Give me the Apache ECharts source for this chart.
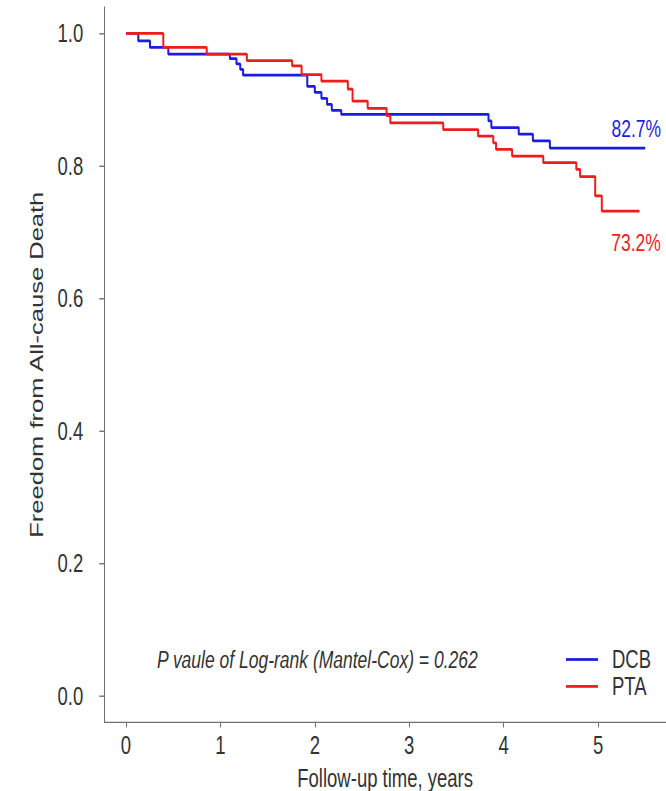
<!DOCTYPE html>
<html>
<head>
<meta charset="utf-8">
<script src="https://cdn.jsdelivr.net/npm/echarts@6/dist/echarts.min.js"></script>
<style>
  html, body { margin: 0; padding: 0; background: #fff; overflow: hidden; }
  #wrap { width: 666px; height: 791px; overflow: hidden; position: relative; }
  #chart { width: 666px; height: 576px; transform: scaleY(1.38); transform-origin: 0 0; }
</style>
</head>
<body>
<div id="wrap"><div id="chart"></div></div>
<script>
// ---- data ----
const seriesNames = ['DCB', 'PTA'];
const dcbTime = [0, 0.13, 0.254, 0.448, 1.10, 1.17, 1.21, 1.24, 1.92, 2.00, 2.07, 2.13, 2.18, 2.28, 3.84, 3.87, 4.16, 4.31, 4.49, 5.50];
const dcbSurv = [1.0, 0.989, 0.979, 0.969, 0.962, 0.954, 0.946, 0.937, 0.920, 0.911, 0.902, 0.893, 0.884, 0.878, 0.868, 0.858, 0.848, 0.838, 0.827, 0.827];
const ptaTime = [0, 0.395, 0.855, 1.28, 1.76, 1.86, 2.07, 2.35, 2.40, 2.56, 2.76, 2.80, 3.36, 3.73, 3.89, 3.92, 4.09, 4.42, 4.77, 4.81, 4.97, 5.04, 5.44];
const ptaSurv = [1.0, 0.979, 0.969, 0.959, 0.951, 0.938, 0.928, 0.916, 0.898, 0.887, 0.876, 0.865, 0.855, 0.845, 0.835, 0.825, 0.815, 0.805, 0.795, 0.784, 0.755, 0.732, 0.732];
const endLabels = ['82.7%', '73.2%'];
const xTicks = [0, 1, 2, 3, 4, 5];
const yTicks = [0, 0.2, 0.4, 0.6, 0.8, 1.0];
const xTitle = 'Follow-up time, years';
const yTitle = 'Freedom from All-cause Death';
const pText = 'P vaule of Log-rank (Mantel-Cox) = 0.262';

// ---- styling ----
const FONT = "'Liberation Sans', Arial, sans-serif";
const BLUE = '#1c1ce0';
const RED = '#ee1c1c';
const AXIS = '#707070';
const TEXT = '#333333';

function pairs(t, s) { return t.map((v, i) => [v, s[i]]); }

const chart = echarts.init(document.getElementById('chart'), null, { renderer: 'svg' });
chart.setOption({
  animation: false,
  backgroundColor: '#ffffff',
  grid: { left: 104.3, right: 0, top: 5.07, bottom: 52.5, containLabel: false, outerBoundsMode: 'none' },
  xAxis: {
    type: 'value', min: -0.23, max: 5.72,
    name: xTitle, nameLocation: 'middle', nameGap: 27,
    nameTextStyle: { fontFamily: FONT, fontSize: 18.5, lineHeight: 19, color: TEXT },
    axisLine: { show: true, onZero: false, lineStyle: { color: AXIS, width: 1 } },
    axisTick: { show: true, length: 3.6, customValues: xTicks, lineStyle: { color: AXIS } },
    axisLabel: { customValues: xTicks, margin: 7, fontFamily: FONT, fontSize: 18.5, color: TEXT,
      formatter: v => String(v) },
    splitLine: { show: false }
  },
  yAxis: {
    type: 'value', min: -0.04, max: 1.04,
    name: yTitle, nameLocation: 'middle', nameGap: 56, nameRotate: 90,
    nameTextStyle: { fontFamily: FONT, fontSize: 18.5, color: TEXT },
    axisLine: { show: true, onZero: false, lineStyle: { color: AXIS, width: 1 } },
    axisTick: { show: true, length: 5, customValues: yTicks, lineStyle: { color: AXIS } },
    axisLabel: { customValues: yTicks, margin: 21, fontFamily: FONT, fontSize: 18.5, color: TEXT,
      formatter: v => v.toFixed(1) },
    splitLine: { show: false }
  },
  legend: {
    orient: 'vertical', left: 561, top: 463.4,
    data: seriesNames, icon: 'rect', itemWidth: 32, itemHeight: 2, itemGap: 0.5,
    textStyle: { fontFamily: FONT, fontSize: 18.5, color: TEXT, padding: [0, 0, 0, 9] }
  },
  graphic: [{
    type: 'text', left: 157, top: 469,
    style: { text: pText, fontFamily: FONT, fontSize: 17.5, fontStyle: 'italic', fill: TEXT }
  }],
  series: [
    {
      name: seriesNames[0], type: 'line', step: 'end', showSymbol: false, symbol: 'none',
      data: pairs(dcbTime, dcbSurv), color: BLUE,
      lineStyle: { color: BLUE, width: 2 },
      markPoint: {
        symbol: 'circle', symbolSize: 0,
        data: [{ coord: [dcbTime[dcbTime.length - 1], dcbSurv[dcbSurv.length - 1]] }],
        label: { show: true, formatter: endLabels[0], position: 'inside', offset: [-9, -14],
          fontFamily: FONT, fontSize: 17.5, color: BLUE }
      }
    },
    {
      name: seriesNames[1], type: 'line', step: 'end', showSymbol: false, symbol: 'none',
      data: pairs(ptaTime, ptaSurv), color: RED,
      lineStyle: { color: RED, width: 2 },
      markPoint: {
        symbol: 'circle', symbolSize: 0,
        data: [{ coord: [ptaTime[ptaTime.length - 1], ptaSurv[ptaSurv.length - 1]] }],
        label: { show: true, formatter: endLabels[1], position: 'inside', offset: [-3.5, 22.7],
          fontFamily: FONT, fontSize: 17.5, color: RED }
      }
    }
  ]
});
</script>
</body>
</html>
